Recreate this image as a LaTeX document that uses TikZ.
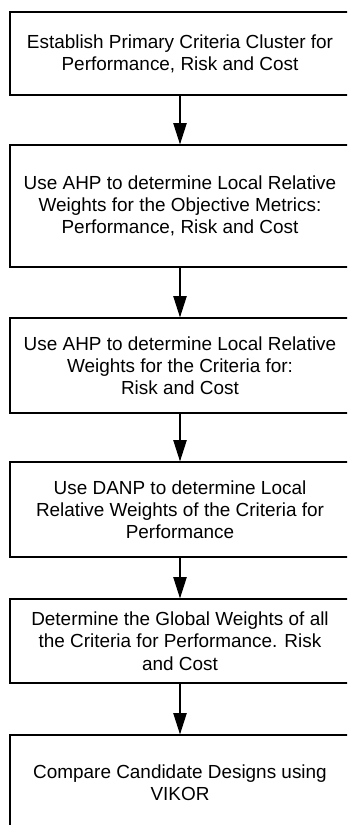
\documentclass[tikz,border=0pt]{standalone}
\usepackage{fontspec}
\setmainfont{Liberation Sans}
\usepackage{tikz}
\usetikzlibrary{positioning, arrows.meta}

\tikzset{
  stagebox/.style = {draw, line width=0.9pt, minimum width=255pt, align=center,
                     font=\fontsize{14.2}{16.7}\selectfont, inner sep=0pt},
  flowarrow/.style = {line width=0.9pt, -{Triangle[length=16pt, width=10pt]}}
}

\begin{document}
\begin{tikzpicture}[x=0.75pt, y=-0.75pt]
                \clip (0,0) rectangle (347,825);
                \useasboundingbox (0,0) rectangle (347,825);

                \node [stagebox, minimum height=62.25pt] at (180,53.5) (cluster)
                      {Establish Primary Criteria Cluster for\\Performance, Risk and Cost};
                \node [stagebox, minimum height=91.5pt] at (180,206) (ahpobj)
                      {Use AHP to determine Local Relative\\Weights for the Objective Metrics:\\Performance, Risk and Cost};
                \node [stagebox, minimum height=71.25pt] at (180,365.5) (ahpcrit)
                      {Use AHP to determine Local Relative\\Weights for the Criteria for:\\Risk and Cost};
                \node [stagebox, minimum height=71.25pt] at (180,509.5) (danp)
                      {Use DANP to determine Local\\Relative Weights of the Criteria for\\Performance};
                \node [stagebox, minimum height=63pt] at (180,641) (global)
                      {Determine the Global Weights of all\\the Criteria for Performance. Risk\\and Cost};
                \node [stagebox, minimum height=72pt] at (180,783) (vikor)
                      {Compare Candidate Designs using\\VIKOR};

                % arrows between the stages
                \foreach \a/\b in {cluster/ahpobj, ahpobj/ahpcrit, ahpcrit/danp, danp/global, global/vikor}{
                  \draw [flowarrow] (\a.south) -- (\b.north);
                }
            \end{tikzpicture}
\end{document}
